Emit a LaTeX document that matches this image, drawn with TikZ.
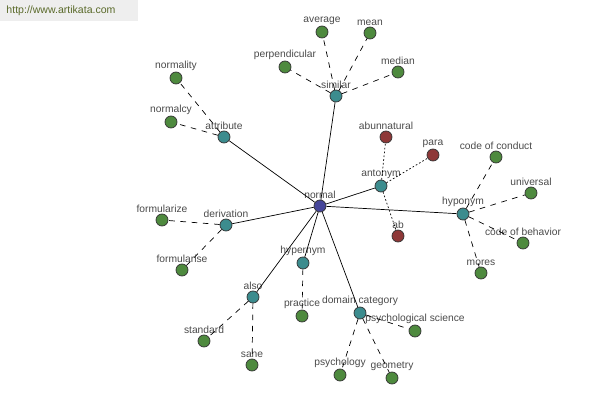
\documentclass[tikz,border=0pt]{standalone}
\usepackage{fontspec}
\setmainfont{Liberation Sans}
\usepackage{tikz}
\usetikzlibrary{positioning}
\definecolor{wordgreen}{HTML}{4E8A3E}
\definecolor{wordteal}{HTML}{3C8C8E}
\definecolor{wordred}{HTML}{8E3838}
\definecolor{wordblue}{HTML}{46469A}
\definecolor{wordtext}{HTML}{4A4A4A}
\definecolor{sitetext}{HTML}{5A6A2A}
\tikzstyle{lbl}=[font=\fontsize{7.3}{8}\selectfont, text=wordtext, inner sep=0.5pt]
\tikzstyle{word}=[circle, draw=black!80, line width=0.5pt, minimum size=0.3cm, inner sep=0pt]
\tikzstyle{leaf}=[word, fill=wordgreen]
\tikzstyle{hub}=[word, fill=wordteal]
\tikzstyle{anti}=[word, fill=wordred]
\tikzstyle{root}=[word, fill=wordblue]
\tikzstyle{link}=[black, line width=0.5pt]
\tikzstyle{weak}=[black, line width=0.5pt, dash pattern=on 4pt off 4pt]
\tikzstyle{dots}=[black, line width=0.5pt, dash pattern=on 1.2pt off 1.5pt]

\begin{document}
\begin{tikzpicture}[x=0.025cm, y=-0.025cm, every label/.style={lbl}, label distance=0pt]
          \useasboundingbox (0,0) rectangle (600,400);
          \fill[gray!13] (0,0) rectangle (138,21);
          \node[font=\fontsize{7.5}{9}\selectfont, text=sitetext] (site) at (61,11){http://www.artikata.com};
          \node[root, label=above:normal] (normal) at (320,206){};
          \node[hub, label=above:similar] (similar) at (336,96){};
          \node[leaf, label=above:average] (average) at (322,32){};
          \node[leaf, label=above:mean] (mean) at (370,33){};
          \node[leaf, label=above:perpendicular] (perpendicular) at (285,67){};
          \node[leaf, label=above:median] (median) at (398,72){};
          \draw[weak](similar) -- (average);
          \draw[weak](similar) -- (mean);
          \draw[weak](similar) -- (perpendicular);
          \draw[weak](similar) -- (median);
          \node[hub, label=above:attribute] (attribute) at (224,137){};
          \node[leaf, label=above:normality] (normality) at (176,78){};
          \node[leaf, label=above:normalcy] (normalcy) at (171,122){};
          \draw[weak](attribute) -- (normality);
          \draw[weak](attribute) -- (normalcy);
          \node[hub, label=above:antonym] (antonym) at (381,186){};
          \node[anti, label=above:abunnatural] (abunnatural) at (386,137){};
          \node[anti, label=above:para] (para) at (433,155){};
          \node[anti, label=above:ab] (ab) at (398,236){};
          \draw[dots](antonym) -- (abunnatural);
          \draw[dots](antonym) -- (para);
          \draw[dots](antonym) -- (ab);
          \node[hub, label=above:hyponym] (hyponym) at (463,214){};
          \node[leaf, label=above:code of conduct] (conduct) at (496,157){};
          \node[leaf, label=above:universal] (universal) at (531,193){};
          \node[leaf, label=above:code of behavior] (behavior) at (523,243){};
          \node[leaf, label=above:mores] (mores) at (481,273){};
          \draw[weak](hyponym) -- (conduct);
          \draw[weak](hyponym) -- (universal);
          \draw[weak](hyponym) -- (behavior);
          \draw[weak](hyponym) -- (mores);
          \node[hub, label=above:derivation] (derivation) at (226,225){};
          \node[leaf, label=above:formularize] (formularize) at (162,220){};
          \node[leaf, label=above:formularise] (formularise) at (182,270){};
          \draw[weak](derivation) -- (formularize);
          \draw[weak](derivation) -- (formularise);
          \node[hub, label=above:hypernym] (hypernym) at (303,263){};
          \node[leaf, label=above:practice] (practice) at (302,316){};
          \draw[weak](hypernym) -- (practice);
          \node[hub, label=above:also] (also) at (253,297){};
          \node[leaf, label=above:standard] (standard) at (204,341){};
          \node[leaf, label=above:sane] (sane) at (252,365){};
          \draw[weak](also) -- (standard);
          \draw[weak](also) -- (sane);
          \node[hub, label=above:domain category] (domain) at (360,313){};
          \node[leaf, label=above:psychological science] (psyscience) at (415,331){};
          \node[leaf, label=above:psychology] (psychology) at (340,375){};
          \node[leaf, label=above:geometry] (geometry) at (392,378){};
          \draw[weak](domain) -- (psyscience);
          \draw[weak](domain) -- (psychology);
          \draw[weak](domain) -- (geometry);
          \draw[link](normal) -- (similar);
          \draw[link](normal) -- (attribute);
          \draw[link](normal) -- (antonym);
          \draw[link](normal) -- (hyponym);
          \draw[link](normal) -- (derivation);
          \draw[link](normal) -- (hypernym);
          \draw[link](normal) -- (also);
          \draw[link](normal) -- (domain);
        \end{tikzpicture}
\end{document}
